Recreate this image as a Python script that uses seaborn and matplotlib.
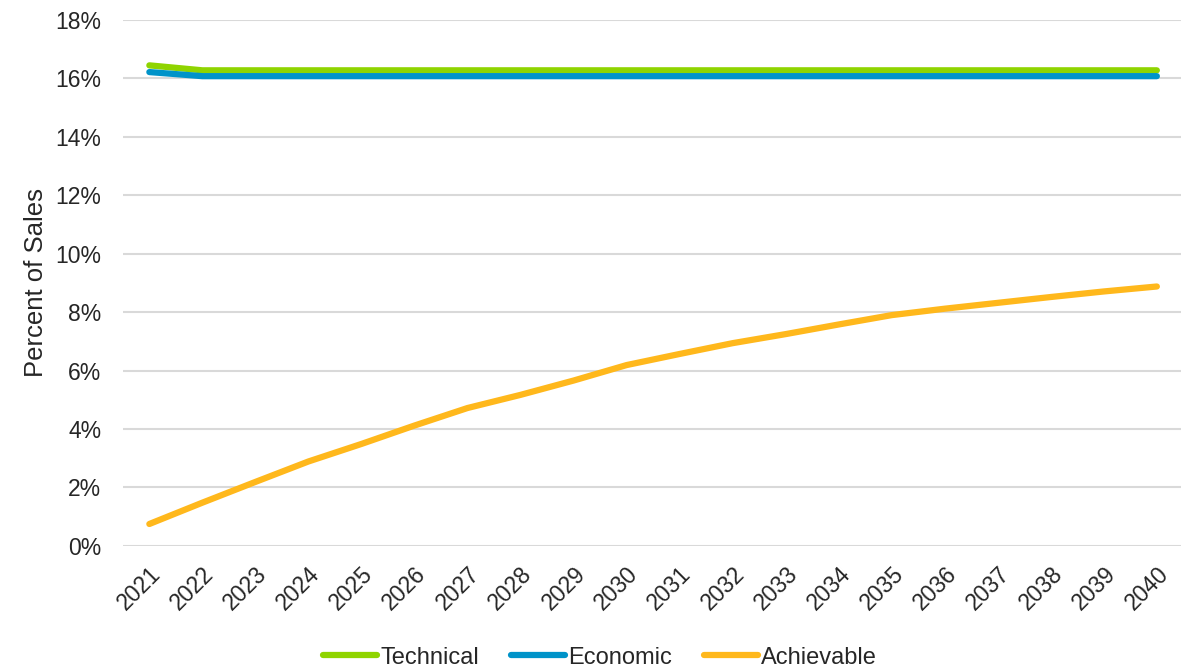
import numpy as np
import pandas as pd
import seaborn as sns
import matplotlib.pyplot as plt
import matplotlib.transforms as mtransforms
from matplotlib.ticker import PercentFormatter

years = list(range(2021, 2041))
technical = [16.45, 16.28, 16.28, 16.28, 16.28, 16.28, 16.28, 16.28, 16.28, 16.28,
             16.28, 16.28, 16.28, 16.28, 16.28, 16.28, 16.28, 16.28, 16.28, 16.28]
economic = [16.22, 16.08, 16.08, 16.08, 16.08, 16.08, 16.08, 16.08, 16.08, 16.08,
            16.08, 16.08, 16.08, 16.08, 16.08, 16.08, 16.08, 16.08, 16.08, 16.08]
achievable = [0.75, 1.48, 2.19, 2.89, 3.49, 4.12, 4.72, 5.17, 5.66, 6.19,
              6.57, 6.94, 7.25, 7.58, 7.90, 8.12, 8.32, 8.52, 8.71, 8.88]

series_names = ["Technical", "Economic", "Achievable"]
colors = ["#8FD400", "#0093C9", "#FFB81C"]

df = pd.DataFrame({
    "Year": years * 3,
    "Value": technical + economic + achievable,
    "Series": [series_names[0]] * 20 + [series_names[1]] * 20 + [series_names[2]] * 20,
})

sns.set_theme(style="white")
plt.rcParams["font.family"] = ["Liberation Sans", "DejaVu Sans"]

text_color = "#262626"
fig = plt.figure(figsize=(11.81, 6.69), dpi=100)
ax = fig.add_axes([0.104, 0.184, 0.898, 0.786])

sns.lineplot(data=df, x="Year", y="Value", hue="Series", palette=colors,
             hue_order=series_names, linewidth=4.5, ax=ax, legend=False,
             solid_capstyle="round")

ax.set_xlim(2020.5, 2040.5)
ax.set_ylim(0, 18)
ax.set_yticks(np.arange(0, 19, 2))
ax.yaxis.set_major_formatter(PercentFormatter(decimals=0))
ax.set_xticks(years)
ax.set_xticklabels([str(y) for y in years], rotation=45, ha="right",
                   rotation_mode="anchor", fontsize=16.5, color=text_color)
shift = mtransforms.ScaledTranslation(-5 / 100, 0, fig.dpi_scale_trans)
for lbl in ax.get_xticklabels():
    lbl.set_transform(lbl.get_transform() + shift)
ax.tick_params(axis="y", labelsize=16.5, labelcolor=text_color, length=0, pad=15.5)
ax.tick_params(axis="x", length=0, pad=12)
ax.grid(axis="y", color="#D9D9D9", linewidth=1.5)
ax.set_axisbelow(True)
for s in ax.spines.values():
    s.set_visible(False)

ax.set_xlabel("")
ax.set_ylabel("Percent of Sales", fontsize=18.5, color=text_color, labelpad=5)

handles = [plt.Line2D([], [], color=c, linewidth=4.5, solid_capstyle="round") for c in colors]
fig.legend(handles, series_names, loc="center", bbox_to_anchor=(0.508, 0.017),
           ncol=3, frameon=False, fontsize=17, handlelength=2.3,
           handletextpad=0.12, columnspacing=1.35, labelcolor=text_color)

fig.savefig("out.png", dpi=100)
